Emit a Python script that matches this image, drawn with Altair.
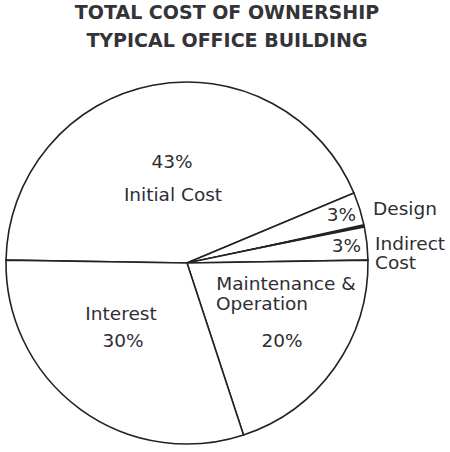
import math
import altair as alt
import pandas as pd

# ---- data ----
categories = ["Initial Cost", "Design", "Indirect Cost", "Maintenance & Operation", "Interest"]
shares = [43, 3, 3, 20, 30]
title_lines = ["TOTAL COST OF OWNERSHIP", "TYPICAL OFFICE BUILDING"]

df = pd.DataFrame({"category": categories, "share": shares})
df["end"] = df["share"].cumsum()
df["start"] = df["end"] - df["share"]
total = float(df["share"].sum())

# ---- layout / style ----
CX, CY, R = 187, 263, 181
START = math.radians(270.9)
INK = "#222226"
TXT = "#2e2e33"
FONT = "DejaVu Sans"
FS = 18.5

theta_scale = alt.Scale(domain=[0, total], range=[START, START + 2 * math.pi])

slices = alt.Chart(df).mark_arc(
    radius=R, fill="white", stroke=INK, strokeWidth=1.6
).encode(
    theta=alt.Theta("start:Q", scale=theta_scale),
    theta2="end:Q",
    x=alt.value(CX),
    y=alt.value(CY),
)

# heavier boundary between Design and Indirect Cost
bd = df[df["category"] == "Design"].copy()
bd["b0"] = bd["end"] - 0.16
bd["b1"] = bd["end"] + 0.16
boundary = alt.Chart(bd).mark_arc(radius=R, fill=INK, strokeWidth=0).encode(
    theta=alt.Theta("b0:Q", scale=theta_scale),
    theta2="b1:Q",
    x=alt.value(CX),
    y=alt.value(CY),
)

one = pd.DataFrame({"k": [0]})


def label(text, x, y, align="center", size=FS, weight="normal", color=TXT):
    return alt.Chart(one).mark_text(
        font=FONT, fontSize=size, fontWeight=weight, color=color,
        align=align, baseline="alphabetic",
    ).encode(x=alt.value(x), y=alt.value(y), text=alt.value(text))


pct = {c: f"{s}%" for c, s in zip(categories, shares)}

texts = [
    label(title_lines[0], 227, 19, size=19, weight="bold", color="#333338"),
    label(title_lines[1], 227, 47, size=19, weight="bold", color="#333338"),
    label(pct["Initial Cost"], 172, 168),
    label("Initial Cost", 173, 201),
    label(pct["Design"], 356, 221, align="right"),
    label("Design", 373, 215, align="left"),
    label(pct["Indirect Cost"], 361, 252, align="right"),
    label("Indirect", 375, 250, align="left"),
    label("Cost", 375, 269, align="left"),
    label("Maintenance &", 286, 290),
    label("Operation", 216, 310, align="left"),
    label(pct["Maintenance & Operation"], 282, 347),
    label("Interest", 121, 320),
    label(pct["Interest"], 123, 347),
]

chart = alt.layer(slices, boundary, *texts).properties(
    width=450, height=452, padding=0, autosize="none", background="white"
).configure_view(stroke=None)

chart.save("out.html", embed_options={"renderer": "svg", "actions": False})
